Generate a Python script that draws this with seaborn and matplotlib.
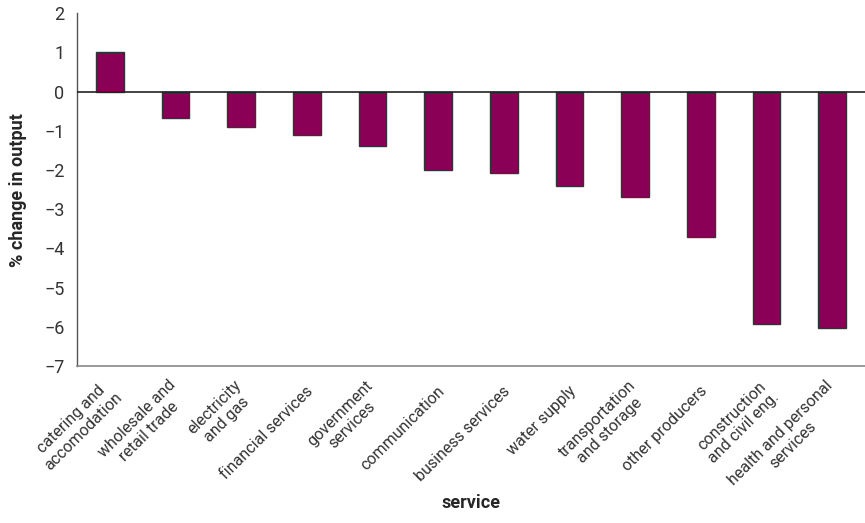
import matplotlib
matplotlib.use("Agg")
import matplotlib.pyplot as plt
import matplotlib.transforms as mtransforms
import numpy as np
import pandas as pd
import seaborn as sns

services = [
    "catering and\naccomodation",
    "wholesale and\nretail trade",
    "electricity\nand gas",
    "financial services",
    "government\nservices",
    "communication",
    "business services",
    "water supply",
    "transportation\nand storage",
    "other producers",
    "construction\nand civil eng.",
    "health and personal\nservices",
]
change = [1.0, -0.67, -0.90, -1.10, -1.38, -2.0, -2.08, -2.42, -2.70, -3.70, -5.93, -6.04]
y_ticks = [2, 1, 0, -1, -2, -3, -4, -5, -6, -7]

sns.set_style("white")
plt.rcParams["font.family"] = ["Roboto", "DejaVu Sans"]

df = pd.DataFrame({"service": services, "change": change})

fig = plt.figure(figsize=(8.65, 5.23), dpi=100)
ax = fig.add_axes([0.089, 0.30, 0.911, 0.675])

sns.barplot(data=df, x="service", y="change", color="#8B0057", saturation=1,
            width=0.42, edgecolor="#333333", linewidth=1, ax=ax)

ax.set_ylim(-7, 2)
ax.set_xlim(-0.5, len(services) - 0.5)
ax.set_yticks(y_ticks)
ax.set_yticklabels([str(t).replace("-", "\u2212") for t in y_ticks], fontsize=13, color="#333333")
ax.axhline(0, color="#222222", linewidth=1.2, zorder=3)

# major ticks sit between categories, labels on minor ticks at the centres
ax.set_xticks(np.arange(len(services) + 1) - 0.5, minor=False)
ax.set_xticklabels([])
ax.set_xticks(np.arange(len(services)), minor=True)
ax.set_xticklabels(services, minor=True, rotation=45, ha="right", va="center",
                   rotation_mode="anchor", fontsize=11.5, color="#333333",
                   multialignment="center")
ax.tick_params(axis="x", which="major", direction="out", length=6, width=1, color="#333333")
ax.tick_params(axis="x", which="minor", length=0, pad=16.5)
ax.tick_params(axis="y", direction="out", length=6, width=1, color="#555555", pad=3)
shift = mtransforms.ScaledTranslation(4 / 100, 0, fig.dpi_scale_trans)
for lab in ax.get_xticklabels(minor=True):
    lab.set_transform(lab.get_transform() + shift)

sns.despine(ax=ax, top=True, right=True)
ax.spines["left"].set_color("#555555")
ax.spines["bottom"].set_color("#888888")
ax.spines["left"].set_linewidth(1)
ax.spines["bottom"].set_linewidth(1.2)

ax.set_ylabel("% change in output", fontsize=13, fontweight="bold", labelpad=12)
ax.set_xlabel("")
fig.text(0.545, 0.028, "service", ha="center", fontsize=13, fontweight="bold")

fig.savefig("out.png", dpi=100)
